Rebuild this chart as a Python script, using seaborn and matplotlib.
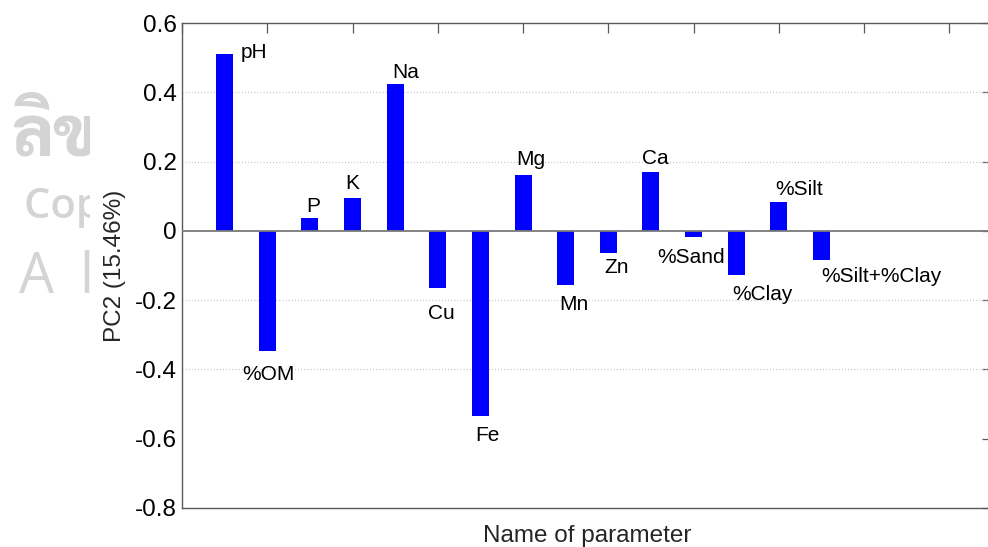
import os
import matplotlib
matplotlib.use("Agg")
import matplotlib.pyplot as plt
from matplotlib import font_manager
from matplotlib.patches import Rectangle
from matplotlib.ft2font import FT2Font
import seaborn as sns
import pandas as pd

# Loadings of each soil parameter on the second principal component
params = ["pH", "%OM", "P", "K", "Na", "Cu", "Fe", "Mg", "Mn", "Zn",
          "Ca", "%Sand", "%Clay", "%Silt", "%Silt+%Clay"]
pc2 = [0.510, -0.347, 0.036, 0.096, 0.4225, -0.166, -0.535, 0.160, -0.155,
       -0.064, 0.170, -0.019, -0.128, 0.084, -0.084]

y_ticks = [-0.8, -0.6, -0.4, -0.2, 0.0, 0.2, 0.4, 0.6]
y_tick_labels = ["-0.8", "-0.6", "-0.4", "-0.2", "0", "0.2", "0.4", "0.6"]
grid_levels = [-0.4, -0.2, 0.2, 0.4]

# Text placement of each bar name relative to the bar end (pixels: right, up)
label_offsets = [(16, -4), (-25, -29), (-4, 6), (-7, 9), (-3, 6), (-10, -31),
                 (-5, -25), (-7, 10), (-6, -25), (-4, -20), (-9, 8),
                 (-36, -26), (-4, -25), (-4, 7), (0, -22)]

sns.set_style("white")
plt.rcParams["font.family"] = ["Liberation Sans", "DejaVu Sans"]

W, H, DPI = 988, 547, 100
fig = plt.figure(figsize=(W / DPI, H / DPI), dpi=DPI)


def find_thai_font():
    preferred = ("thai", "loma", "garuda", "norasi", "kinnari", "sawasdee",
                 "umpush", "waree", "laksaman", "sarabun", "tlwg")
    found = []
    for path in font_manager.findSystemFonts():
        try:
            if ord("ล") in FT2Font(path).get_charmap():
                found.append(path)
        except Exception:
            continue
    good = [p for p in found
            if any(k in os.path.basename(p).lower() for k in preferred)]
    bold = [p for p in good if "bold" in os.path.basename(p).lower()
            and "oblique" not in os.path.basename(p).lower()
            and "italic" not in os.path.basename(p).lower()]
    if bold:
        return bold[0], False
    if good:
        return good[0], True
    return None, False


# Faint copyright stamp behind the plot area
wm_color = "#d4d4d4"
thai_path, fake_bold = find_thai_font()
if thai_path is not None:
    t = fig.text(11 / W, 1 - 156 / H, "ลิขสิทธิ์มหาวิทยาลัยเชียงใหม่",
                 fontproperties=font_manager.FontProperties(fname=thai_path, size=50),
                 color=wm_color, zorder=0)
    if fake_bold:
        import matplotlib.patheffects as pe
        t.set_path_effects([pe.Stroke(linewidth=3, foreground=wm_color), pe.Normal()])
fig.text(24 / W, 1 - 218 / H, "Copyright\u00a9 by Chiang Mai University",
         fontsize=30, color=wm_color, zorder=0, family="Open Sans",
         weight="semibold")
fig.text(19 / W, 1 - 293 / H, "A", fontsize=40, color=wm_color, zorder=0,
         family="Open Sans")
fig.text(80 / W, 1 - 293 / H, "ll rights reserved", fontsize=40,
         color=wm_color, zorder=0, family="Open Sans")
fig.patches.append(Rectangle((90 / W, 0), 1, 1, transform=fig.transFigure,
                             facecolor="white", edgecolor="none", zorder=0.5))

left, right, top, bottom = 182, 992, 23, 508
ax = fig.add_axes([left / W, 1 - bottom / H, (right - left) / W, (bottom - top) / H])
ax.set_zorder(2)
ax.patch.set_alpha(0)

df = pd.DataFrame({"param": params, "pc2": pc2})
sns.barplot(data=df, x="param", y="pc2", order=params, color="#0000ff",
            saturation=1, width=0.4, edgecolor="none", ax=ax, zorder=3)

for lvl in grid_levels:
    ax.axhline(lvl, color="#bdbdbd", lw=0.9, ls=(0, (0.7, 1.8)), zorder=1)
ax.axhline(0, color="#7a7a7a", lw=1.3, zorder=4)

for i, (name, val) in enumerate(zip(params, pc2)):
    dx, dy = label_offsets[i]
    ax.annotate(name, xy=(i, val), xytext=(dx, dy), textcoords="offset pixels",
                ha="left", va="baseline", fontsize=15, color="black", zorder=5)

ax.set_xlim(-1, 18)
ax.set_xticks(range(-1, 19, 2))
ax.set_xticklabels([])
ax.set_ylim(-0.8, 0.6)
ax.set_yticks(y_ticks)
ax.set_yticklabels(y_tick_labels)

for side in ["left", "right", "top", "bottom"]:
    ax.spines[side].set_visible(True)
    ax.spines[side].set_color("#5a5a5a")
    ax.spines[side].set_linewidth(1.0)

ax.tick_params(axis="both", direction="in", length=7, width=0.9,
               color="#5a5a5a", top=True, right=True, labelsize=17.5,
               labelcolor="black", pad=4)
ax.tick_params(axis="x", labelbottom=False, labeltop=False)
ax.tick_params(axis="y", labelright=False)

ax.set_xlabel("Name of parameter", fontsize=17.5, labelpad=12)
ax.set_ylabel("PC2 (15.46%)", fontsize=17.5, labelpad=6)

fig.savefig("out.png", dpi=DPI, facecolor="white")
